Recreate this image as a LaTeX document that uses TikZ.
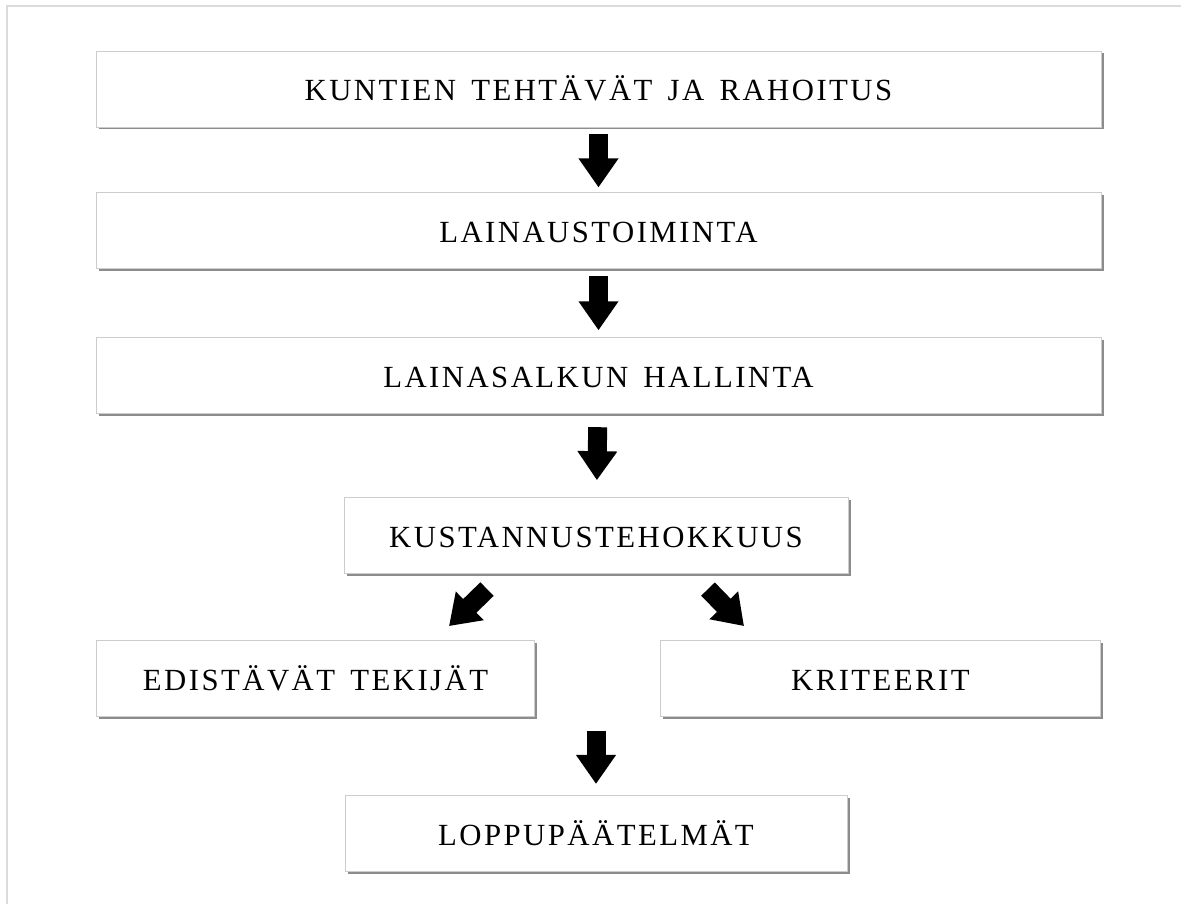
\documentclass[tikz,border=0pt]{standalone}
\usepackage{fontspec}
\newfontfamily\boxfont{Liberation Serif}[LetterSpace=8,WordSpace=1.5]
\usepackage{tikz}
\usetikzlibrary{arrows.meta,shapes,positioning,shadows,calc}

\begin{document}
\begin{tikzpicture}[
  node distance = 1.3cm and 1.3cm,
  > = Triangle,
  box/.style = {rectangle, draw=black!20, line width=0.5pt, fill=white,
                minimum height=1.52cm, inner sep=0pt,
                text height=13.5pt, text depth=0pt,
                font=\boxfont\fontsize{17.5}{20}\selectfont,
                drop shadow={shadow xshift=0.05cm, shadow yshift=-0.05cm,
                             fill=black!45, opacity=1}},
  fat/.style = {line width=0.38cm, -{Triangle[width=0.76cm,length=0.58cm]}}
]
\useasboundingbox (0,0) rectangle (23.62,-18.08);
\draw[black!14, line width=0.04cm] (0.14,-18.08) -- (0.14,-0.12) -- (23.62,-0.12);

\node[box, minimum width=20.1cm] (t1) at (11.97,-1.78) {KUNTIEN TEHTÄVÄT JA RAHOITUS};
\node[box, minimum width=20.1cm, below=1.3cm of t1] (t2) {LAINAUSTOIMINTA};
\node[box, minimum width=20.1cm, below=1.36cm of t2] (t3) {LAINASALKUN HALLINTA};
\node[box, minimum width=10.08cm, below=1.66cm of t3, xshift=-0.05cm] (t4) {KUSTANNUSTEHOKKUUS};

\node[box, minimum width=8.76cm, below=1.32cm of t4.south, anchor=north east,
      xshift=-1.22cm] (t5) {EDISTÄVÄT TEKIJÄT};
\node[box, minimum width=8.8cm, below=1.32cm of t4.south, anchor=north west,
      xshift=1.28cm] (t6) {KRITEERIT};
\node[box, minimum width=10.04cm, below=1.56cm of t4.south |- t5.south,
      anchor=north] (t7) {LOPPUPÄÄTELMÄT};

\coordinate (join) at (t5.south -| t7.north);

\draw[fat, shorten <=0.14cm, shorten >=0.1cm] (t1) -- (t2);
\draw[fat, shorten <=0.14cm, shorten >=0.14cm] (t2) -- (t3);
\draw[fat, shorten <=0.26cm, shorten >=0.34cm] (t3) -- (t4);
\draw[fat] ($(t4.south)+(-2.18,-0.3)$) -- ($(t5.north east)+(-1.72,0.28)$);
\draw[fat] ($(t4.south)+(2.24,-0.3)$) -- ($(t6.north west)+(1.68,0.28)$);
\draw[fat, shorten <=0.28cm, shorten >=0.22cm] (join) -- (t7.north);
\end{tikzpicture}
\end{document}
